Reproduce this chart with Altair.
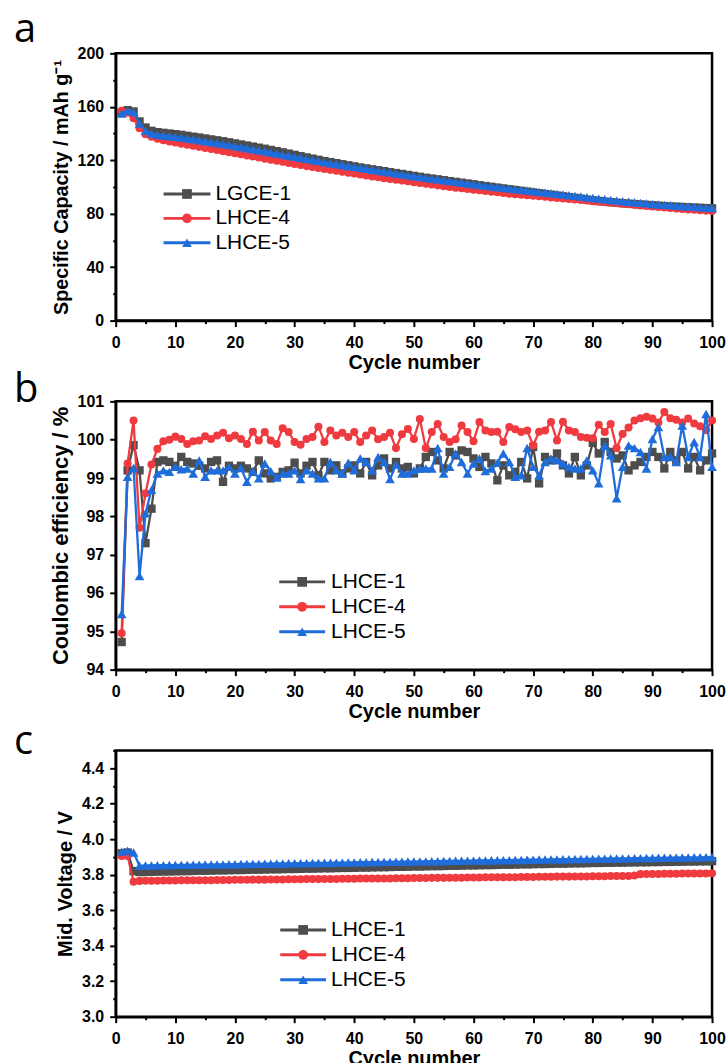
import altair as alt
import pandas as pd

CYCLES = list(range(1, 101))

NAMES_A = ["LGCE-1", "LHCE-4", "LHCE-5"]
NAMES_BC = ["LHCE-1", "LHCE-4", "LHCE-5"]
COLORS = ["#4d4d4d", "#ef3a3f", "#1f6ddb"]
SHAPES = ["square", "circle", "triangle-up"]
SIZES = {"square": 70, "circle": 65, "triangle-up": 95}

# ---- panel a: specific capacity (mAh/g)
CAP_1 = [155.5, 157.5, 156.5, 149, 144.5, 142, 141, 140.5, 140, 139.5,
         139, 138.3, 137.6, 137, 136.3, 135.6, 134.9, 134.2, 133.4, 132.6,
         131.8, 131, 130.2, 129.4, 128.6, 127.7, 126.8, 125.9, 125, 124,
         123, 122.1, 121.2, 120.3, 119.4, 118.6, 117.8, 117, 116.2, 115.4,
         114.6, 113.9, 113.2, 112.5, 111.8, 111.1, 110.4, 109.7, 109, 108.3,
         107.6, 106.9, 106.3, 105.7, 105.1, 104.4, 103.8, 103.2, 102.6, 102,
         101.3, 100.7, 100.1, 99.5, 98.9, 98.3, 97.7, 97.1, 96.5, 95.9,
         95.3, 94.7, 94.2, 93.6, 93, 92.4, 91.8, 91.2, 90.6, 90,
         89.5, 89, 88.6, 88.2, 87.8, 87.5, 87.2, 86.9, 86.6, 86.3,
         86, 85.7, 85.4, 85.2, 85, 84.8, 84.6, 84.4, 84.2, 84]
CAP_4 = [157, 155.5, 151.5, 144, 139.5, 137.5, 136, 135, 134, 133.2,
         132.4, 131.6, 130.8, 130, 129.2, 128.4, 127.6, 126.8, 126, 125.2,
         124.4, 123.6, 122.8, 122, 121.2, 120.4, 119.6, 118.8, 118, 117.2,
         116.4, 115.6, 114.9, 114.2, 113.5, 112.8, 112.1, 111.4, 110.7, 110,
         109.3, 108.6, 107.9, 107.2, 106.6, 106, 105.4, 104.8, 104.2, 103.6,
         103, 102.4, 101.8, 101.2, 100.6, 100, 99.5, 99, 98.5, 98,
         97.5, 97, 96.5, 96, 95.5, 95, 94.6, 94.2, 93.8, 93.4,
         93, 92.6, 92.2, 91.8, 91.4, 91, 90.6, 90.2, 89.8, 89.4,
         89, 88.6, 88.2, 87.8, 87.4, 87, 86.6, 86.2, 85.8, 85.4,
         85, 84.6, 84.2, 83.8, 83.5, 83.2, 82.9, 82.6, 82.3, 82]
CAP_5 = [155, 157, 156, 147.5, 142, 140, 139, 138.5, 138, 137.5,
         137, 136.3, 135.6, 134.9, 134.2, 133.5, 132.8, 132.1, 131.4, 130.6,
         129.8, 129, 128.2, 127.4, 126.6, 125.8, 125, 124.2, 123.4, 122.6,
         121.8, 121, 120.2, 119.4, 118.6, 117.8, 117.1, 116.4, 115.7, 115,
         114.3, 113.6, 112.9, 112.2, 111.5, 110.8, 110.1, 109.4, 108.7, 108,
         107.4, 106.8, 106.2, 105.6, 105, 104.4, 103.8, 103.2, 102.6, 102,
         101.4, 100.8, 100.3, 99.8, 99.3, 98.8, 98.3, 97.8, 97.3, 96.8,
         96.3, 95.8, 95.3, 94.8, 94.3, 93.8, 93.3, 92.8, 92.3, 91.8,
         91.3, 90.8, 90.3, 89.8, 89.3, 88.9, 88.5, 88.1, 87.7, 87.3,
         86.9, 86.6, 86.3, 86, 85.7, 85.4, 85.1, 84.8, 84.5, 84.2]

# ---- panel b: coulombic efficiency (%)
CE_1 = [94.72, 99.20, 99.86, 99.20, 97.30, 98.20, 99.42, 99.46, 99.42, 99.32,
        99.55, 99.42, 99.38, 99.32, 99.25, 99.42, 99.46, 98.90, 99.32, 99.25,
        99.32, 99.25, 99.16, 99.46, 99.12, 98.99, 99.03, 99.16, 99.20, 99.40,
        99.12, 99.32, 99.42, 99.07, 99.42, 99.20, 99.33, 99.12, 99.25, 99.33,
        99.12, 99.42, 99.07, 99.33, 99.51, 99.25, 99.42, 99.25, 99.29, 99.12,
        99.25, 99.55, 99.68, 99.46, 99.25, 99.68, 99.59, 99.72, 99.68, 99.51,
        99.29, 99.55, 99.38, 98.94, 99.33, 99.07, 99.16, 99.42, 98.99, 99.81,
        98.86, 99.55, 99.46, 99.64, 99.33, 99.12, 99.55, 99.07, 99.33, 99.92,
        99.64, 99.94, 99.68, 99.51, 99.59, 99.20, 99.33, 99.42, 99.55, 99.68,
        99.55, 99.25, 99.68, 99.46, 99.68, 99.25, 99.55, 99.20, 99.46, 99.64]
CE_4 = [94.95, 99.38, 100.50, 97.70, 98.60, 99.35, 99.76, 99.96, 100.00, 100.08,
        100.02, 99.89, 99.96, 99.98, 100.09, 100.02, 100.11, 100.18, 100.04, 100.11,
        100.02, 99.89, 100.21, 99.98, 100.20, 99.98, 99.89, 100.30, 100.20, 99.94,
        99.87, 100.02, 100.07, 100.34, 99.94, 100.24, 100.11, 100.18, 100.07, 100.20,
        99.94, 100.11, 100.24, 100.01, 100.07, 100.18, 99.78, 100.14, 100.28, 100.02,
        100.54, 99.78, 100.20, 100.41, 100.07, 99.94, 100.01, 100.37, 100.20, 99.96,
        100.46, 100.24, 100.20, 100.21, 99.94, 100.33, 100.27, 100.20, 100.24, 99.85,
        100.21, 100.24, 100.46, 99.98, 100.47, 100.24, 100.20, 100.07, 100.05, 100.04,
        100.39, 100.20, 100.41, 99.78, 100.15, 100.32, 100.50, 100.56, 100.60, 100.55,
        100.45, 100.72, 100.56, 100.52, 100.45, 100.55, 100.42, 100.35, 100.25, 100.50]
CE_5 = [95.45, 99.03, 99.26, 96.44, 98.08, 98.69, 99.12, 99.20, 99.16, 99.29,
        99.23, 99.25, 99.12, 99.46, 99.03, 99.20, 99.20, 99.20, 99.29, 99.12,
        99.26, 98.90, 99.18, 98.99, 99.38, 99.18, 99.01, 99.12, 99.12, 99.20,
        98.97, 99.20, 99.12, 98.99, 98.99, 99.42, 99.20, 99.12, 99.40, 99.20,
        99.51, 99.42, 99.20, 99.55, 99.42, 98.97, 99.35, 99.12, 99.12, 99.20,
        99.25, 99.25, 99.25, 99.78, 99.12, 99.29, 99.64, 99.42, 99.12, 99.38,
        99.51, 99.18, 99.25, 99.40, 99.64, 99.42, 99.03, 99.07, 99.78, 99.29,
        99.07, 99.42, 99.51, 99.46, 99.38, 99.29, 99.25, 99.25, 99.46, 99.20,
        98.86, 99.85, 99.59, 98.47, 99.29, 99.85, 99.78, 99.68, 99.25, 100.02,
        100.33, 99.55, 99.55, 99.42, 100.37, 99.55, 99.94, 99.55, 100.67, 99.29]

# ---- panel c: mid voltage (V)
V_1 = [3.920, 3.925, 3.820, 3.815, 3.815, 3.816, 3.817, 3.818, 3.818, 3.819,
       3.820, 3.820, 3.821, 3.822, 3.822, 3.823, 3.824, 3.824, 3.825, 3.826,
       3.826, 3.827, 3.828, 3.828, 3.829, 3.830, 3.830, 3.831, 3.832, 3.832,
       3.833, 3.834, 3.834, 3.835, 3.836, 3.836, 3.837, 3.838, 3.838, 3.839,
       3.840, 3.840, 3.841, 3.842, 3.842, 3.843, 3.844, 3.844, 3.845, 3.846,
       3.846, 3.847, 3.848, 3.848, 3.849, 3.850, 3.850, 3.851, 3.852, 3.852,
       3.853, 3.854, 3.854, 3.855, 3.856, 3.856, 3.857, 3.858, 3.858, 3.859,
       3.860, 3.860, 3.861, 3.862, 3.862, 3.863, 3.864, 3.864, 3.865, 3.866,
       3.866, 3.867, 3.867, 3.868, 3.868, 3.869, 3.869, 3.870, 3.870, 3.871,
       3.871, 3.872, 3.872, 3.873, 3.873, 3.874, 3.874, 3.875, 3.875, 3.876]
V_4 = [3.905, 3.905, 3.760, 3.765, 3.766, 3.766, 3.766, 3.767, 3.767, 3.767,
       3.768, 3.768, 3.768, 3.769, 3.769, 3.769, 3.770, 3.770, 3.770, 3.771,
       3.771, 3.771, 3.772, 3.772, 3.772, 3.773, 3.773, 3.773, 3.774, 3.774,
       3.774, 3.775, 3.775, 3.775, 3.776, 3.776, 3.776, 3.777, 3.777, 3.777,
       3.778, 3.778, 3.778, 3.779, 3.779, 3.779, 3.780, 3.780, 3.780, 3.781,
       3.781, 3.781, 3.782, 3.782, 3.782, 3.783, 3.783, 3.783, 3.784, 3.784,
       3.784, 3.785, 3.785, 3.785, 3.786, 3.786, 3.786, 3.787, 3.787, 3.787,
       3.788, 3.788, 3.788, 3.789, 3.789, 3.789, 3.790, 3.790, 3.790, 3.791,
       3.791, 3.791, 3.792, 3.792, 3.792, 3.793, 3.795, 3.803, 3.804, 3.804,
       3.804, 3.805, 3.805, 3.805, 3.806, 3.806, 3.806, 3.807, 3.807, 3.808]
V_5 = [3.930, 3.935, 3.925, 3.850, 3.852, 3.852, 3.853, 3.853, 3.854, 3.854,
       3.855, 3.855, 3.856, 3.856, 3.857, 3.857, 3.858, 3.858, 3.859, 3.859,
       3.860, 3.860, 3.861, 3.861, 3.862, 3.862, 3.863, 3.863, 3.864, 3.864,
       3.865, 3.865, 3.866, 3.866, 3.867, 3.867, 3.868, 3.868, 3.869, 3.869,
       3.870, 3.870, 3.871, 3.871, 3.872, 3.872, 3.873, 3.873, 3.874, 3.874,
       3.875, 3.875, 3.876, 3.876, 3.877, 3.877, 3.878, 3.878, 3.879, 3.879,
       3.880, 3.880, 3.881, 3.881, 3.882, 3.882, 3.883, 3.883, 3.884, 3.884,
       3.885, 3.885, 3.886, 3.886, 3.887, 3.887, 3.888, 3.888, 3.889, 3.889,
       3.890, 3.890, 3.891, 3.891, 3.892, 3.892, 3.893, 3.893, 3.894, 3.894,
       3.895, 3.895, 3.896, 3.896, 3.897, 3.897, 3.898, 3.898, 3.899, 3.899]

X_TICKS = [0, 5, 10, 15, 20, 25, 30, 35, 40, 45, 50, 55, 60, 65, 70, 75, 80, 85, 90, 95, 100]
Y_TICKS_A = [0, 20, 40, 60, 80, 100, 120, 140, 160, 180, 200]
Y_TICKS_B = [94, 94.5, 95, 95.5, 96, 96.5, 97, 97.5, 98, 98.5, 99, 99.5, 100, 100.5, 101]
Y_TICKS_C = [3.0, 3.1, 3.2, 3.3, 3.4, 3.5, 3.6, 3.7, 3.8, 3.9, 4.0, 4.1, 4.2, 4.3, 4.4, 4.5]

FONT = "Liberation Sans"
W = 598


def panel(letter, letter_y, names, series, ydom, yticks, major_test, yfmt,
          ytitle, ytitle_size, ytitle_pad, height, leg):
    xs = alt.Scale(domain=[0, 100], nice=False, zero=False)
    ys = alt.Scale(domain=ydom, nice=False, zero=False)
    x_major = "datum.value % 10 === 0"
    xaxis = alt.Axis(values=X_TICKS, labelExpr=f"({x_major}) ? datum.label : ''",
                     tickSize={"condition": {"test": x_major, "value": 6}, "value": 3},
                     title="Cycle number", titleFontSize=20, labelFlush=False,
                     labelOverlap=False, grid=False, labelPadding=8, titlePadding=2)
    yaxis = alt.Axis(values=yticks, labelExpr=f"({major_test}) ? datum.label : ''",
                     tickSize={"condition": {"test": major_test, "value": 6}, "value": 3},
                     title=ytitle, titleFontSize=ytitle_size, format=yfmt, grid=False,
                     labelOverlap=False, labelPadding=6, titlePadding=ytitle_pad)
    layers = []
    for vals, col, shp in zip(series, COLORS, SHAPES):
        df = pd.DataFrame({"cycle": CYCLES, "v": vals})
        base = alt.Chart(df).encode(
            x=alt.X("cycle:Q", scale=xs, axis=xaxis),
            y=alt.Y("v:Q", scale=ys, axis=yaxis),
        )
        layers.append(base.mark_line(color=col, strokeWidth=2.3))
        layers.append(base.mark_point(filled=True, color=col, shape=shp,
                                      size=SIZES[shp], opacity=1))
    data_layer = alt.layer(*layers)

    leg_df = pd.DataFrame({"series": names, "row": [0, 1, 2]})
    ly = alt.Y("row:Q", axis=None,
               scale=alt.Scale(domain=[0, 2], range=[leg["y0"], leg["y2"]], nice=False, zero=False))
    cs = alt.Scale(domain=names, range=COLORS)
    shs = alt.Scale(domain=names, range=SHAPES)
    lb = alt.Chart(leg_df).encode(y=ly)
    rule = lb.mark_rule(strokeWidth=3).encode(
        x=alt.value(leg["x1"]), x2=alt.value(leg["x2"]),
        color=alt.Color("series:N", scale=cs, legend=None))
    pts = lb.mark_point(filled=True, opacity=1, size=95).encode(
        x=alt.value((leg["x1"] + leg["x2"]) / 2),
        color=alt.Color("series:N", scale=cs, legend=None),
        shape=alt.Shape("series:N", scale=shs, legend=None))
    txt = lb.mark_text(align="left", baseline="middle", fontSize=21, font=FONT,
                       color="black").encode(x=alt.value(leg["xt"]), text="series:N")
    leg_layer = alt.layer(rule, pts, txt)

    let_df = pd.DataFrame({"t": [letter]})
    lt = alt.Chart(let_df).mark_text(align="left", baseline="alphabetic", fontSize=40,
                                     font="Open Sans", color="black").encode(
        x=alt.value(-102), y=alt.value(letter_y), text="t:N")

    return alt.layer(data_layer, leg_layer, lt).resolve_scale(y="independent").properties(
        width=W, height=height)


pa = panel("a", -11, NAMES_A, [CAP_1, CAP_4, CAP_5], [0, 200], Y_TICKS_A,
           "datum.value % 40 === 0", "d", "Specific Capacity / mAh g\u207b\u00b9", 19.8, 6, 268,
           {"x1": 48, "x2": 95, "xt": 100, "y0": 141, "y2": 190})
pb = panel("b", 1, NAMES_BC, [CE_1, CE_4, CE_5], [94, 101], Y_TICKS_B,
           "datum.value % 1 === 0", "d", "Coulombic efficiency / %", 22, 5, 269,
           {"x1": 164, "x2": 210, "xt": 216, "y0": 181, "y2": 231})
pc = panel("c", 4, NAMES_BC, [V_1, V_4, V_5], [3.0, 4.5], Y_TICKS_C,
           "round(datum.value * 10) % 2 === 0", ".1f", "Mid. Voltage / V", 20, 6, 267,
           {"x1": 165, "x2": 211, "xt": 216, "y0": 180, "y2": 230})

chart = alt.vconcat(pa, pb, pc, spacing=81, bounds="flush").properties(
    padding={"left": 12, "top": 7, "right": 0, "bottom": 0}
).configure_axis(
    labelFont=FONT, titleFont=FONT, labelFontWeight="bold", titleFontWeight="bold",
    labelFontSize=16, labelColor="black", titleColor="black",
    domainColor="black", domainWidth=2.5, tickColor="black", tickWidth=2,
).configure_view(stroke="black", strokeWidth=2.5)

chart.save("out.html", embed_options={"renderer": "svg", "actions": False})
